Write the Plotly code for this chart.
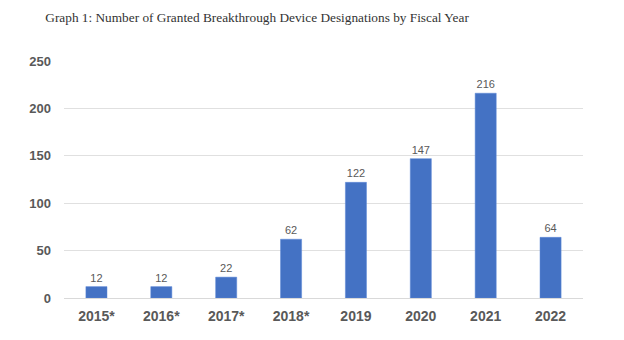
import plotly.graph_objects as go

categories = ["2015*", "2016*", "2017*", "2018*", "2019", "2020", "2021", "2022"]
values = [12, 12, 22, 62, 122, 147, 216, 64]
y_ticks = [0, 50, 100, 150, 200, 250]

fig = go.Figure(go.Bar(
    x=categories, y=values,
    marker=dict(color="#4472c4", line=dict(color="#5b87d6", width=0.5)),
    text=[str(v) for v in values], textposition="outside",
    textfont=dict(family="Liberation Sans", size=11, color="#595959"),
    cliponaxis=False,
))

fig.update_layout(
    width=624, height=340,
    margin=dict(l=64, r=41, t=61, b=42),
    paper_bgcolor="white", plot_bgcolor="white",
    bargap=0.675,
    showlegend=False,
    title=dict(text="Graph 1: Number of Granted Breakthrough Device Designations by Fiscal Year",
               x=0.412, xanchor="center", y=0.948, yanchor="middle",
               font=dict(family="Liberation Serif", size=13.3, color="#333333")),
    xaxis=dict(type="category", showgrid=False, showline=False, ticks="",
               ticklabelstandoff=8,
               tickfont=dict(family="Liberation Sans", size=14, color="#595959", weight="bold")),
    yaxis=dict(range=[0, 250], tickvals=y_ticks, showgrid=True, gridcolor="#e0e0e0",
               gridwidth=1, zeroline=True, zerolinecolor="#d9d9d9", zerolinewidth=1,
               showline=False, ticks="", ticklabelstandoff=12,
               tickfont=dict(family="Liberation Sans", size=13, color="#595959", weight="bold")),
)

fig.write_html("out.html")
